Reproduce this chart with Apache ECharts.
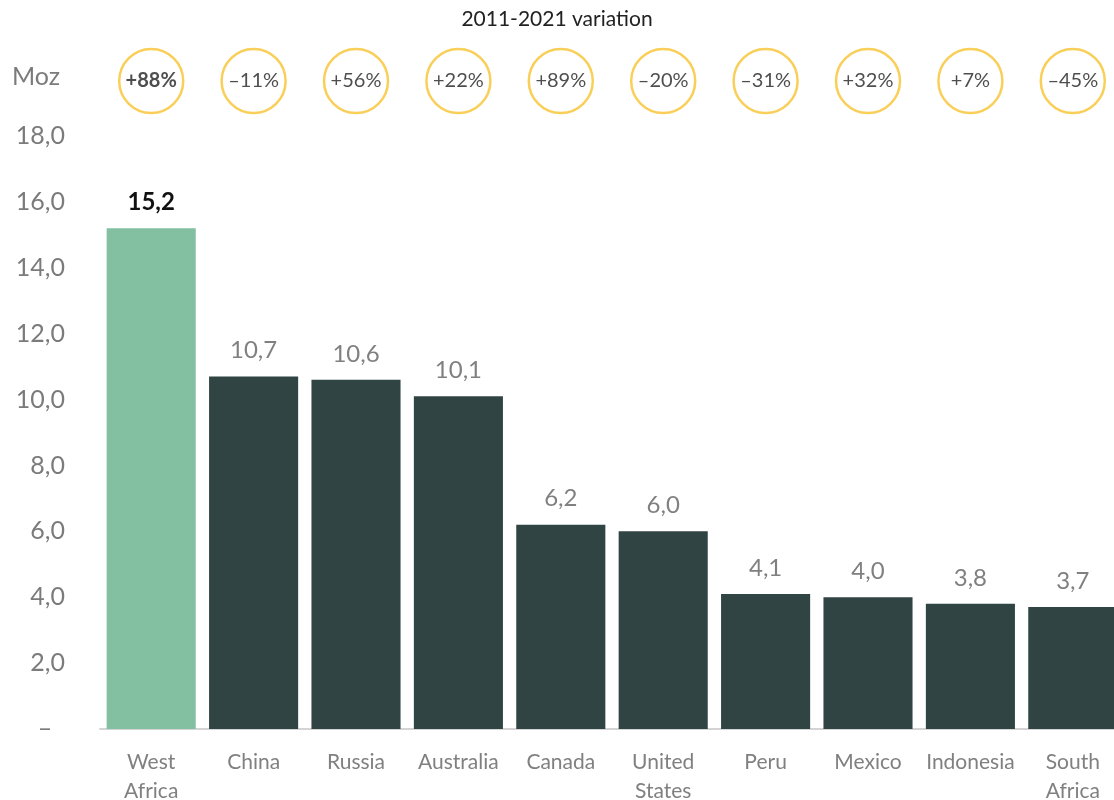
<!DOCTYPE html>
<html>
<head>
<meta charset="utf-8">
<script src="https://cdn.jsdelivr.net/npm/echarts@6/dist/echarts.min.js"></script>
<style>
  html, body { margin: 0; padding: 0; background: #fff; }
  #chart { width: 1114px; height: 800px; }
</style>
</head>
<body>
<div id="chart"></div>
<script>
// 国家 / 产量 (Moz) / 2011-2021 变化
var categories = ['West\nAfrica', 'China', 'Russia', 'Australia', 'Canada', 'United\nStates', 'Peru', 'Mexico', 'Indonesia', 'South\nAfrica']
var production = [15.2, 10.7, 10.6, 10.1, 6.2, 6.0, 4.1, 4.0, 3.8, 3.7]
var variation = ['+88%', '-11%', '+56%', '+22%', '+89%', '-20%', '-31%', '+32%', '+7%', '-45%']

var font = 'Lato, "Open Sans", sans-serif'
var fmt = function (v) { return v.toFixed(1).replace('.', ',') }

var chart = echarts.init(document.getElementById('chart'))
chart.setOption({
    animation: false,
    title: {
        text: '2011-2021 variation',
        left: 'center',
        top: 4,
        textStyle: { fontFamily: font, fontSize: 21, fontWeight: 'normal', color: '#222' }
    },
    graphic: [
        {
            type: 'text',
            left: 12,
            top: 64,
            style: { text: 'Moz', fontFamily: font, fontSize: 25, fill: '#7b7b7b' }
        }
    ],
    grid: [
        { left: 100, right: -10, top: 136, bottom: 71, outerBoundsMode: 'none' }, // 柱状图
        { left: 100, right: -10, top: 40, height: 82, outerBoundsMode: 'none' } // 圆圈
    ],
    xAxis: [
        {
            type: 'category',
            gridIndex: 0,
            data: categories,
            axisTick: { show: false },
            axisLine: { lineStyle: { color: '#d4d4d4', width: 2 } },
            axisLabel: {
                fontFamily: font,
                fontSize: 21,
                color: '#808080',
                lineHeight: 29,
                margin: 19,
                interval: 0
            }
        },
        {
            type: 'category',
            gridIndex: 1,
            data: categories,
            show: false
        }
    ],
    yAxis: [
        {
            type: 'value',
            gridIndex: 0,
            min: 0,
            max: 18,
            interval: 2,
            splitLine: { show: false },
            axisLine: { show: false },
            axisTick: { show: false },
            axisLabel: {
                fontFamily: font,
                fontSize: 25,
                color: '#7b7b7b',
                margin: 35,
                formatter: function (v) { return v === 0 ? '–  ' : fmt(v) }
            }
        },
        {
            type: 'value',
            gridIndex: 1,
            min: 0,
            max: 1,
            show: false
        }
    ],
    series: [
        {
            type: 'bar',
            xAxisIndex: 0,
            yAxisIndex: 0,
            barCategoryGap: '13%',
            data: production.map(function (v, i) {
                return {
                    value: v,
                    itemStyle: { color: i === 0 ? '#82c0a1' : '#304543' },
                    label: i === 0 ? { color: '#111', fontWeight: 'bold' } : {}
                }
            }),
            label: {
                show: true,
                position: 'top',
                distance: 14,
                fontFamily: font,
                fontSize: 24,
                color: '#808080',
                formatter: function (p) { return fmt(p.value) }
            }
        },
        {
            type: 'scatter',
            xAxisIndex: 1,
            yAxisIndex: 1,
            symbol: 'circle',
            symbolSize: 64,
            itemStyle: { color: '#fff', borderColor: '#f8c330', borderWidth: 2.5 },
            data: variation.map(function (v, i) {
                return {
                    value: [i, 0.5],
                    label: i === 0 ? { fontWeight: 'bold' } : {}
                }
            }),
            label: {
                show: true,
                position: 'inside',
                fontFamily: font,
                fontSize: 20,
                color: '#222',
                formatter: function (p) { return variation[p.dataIndex].replace('-', '–') }
            }
        }
    ]
})
</script>
</body>
</html>
